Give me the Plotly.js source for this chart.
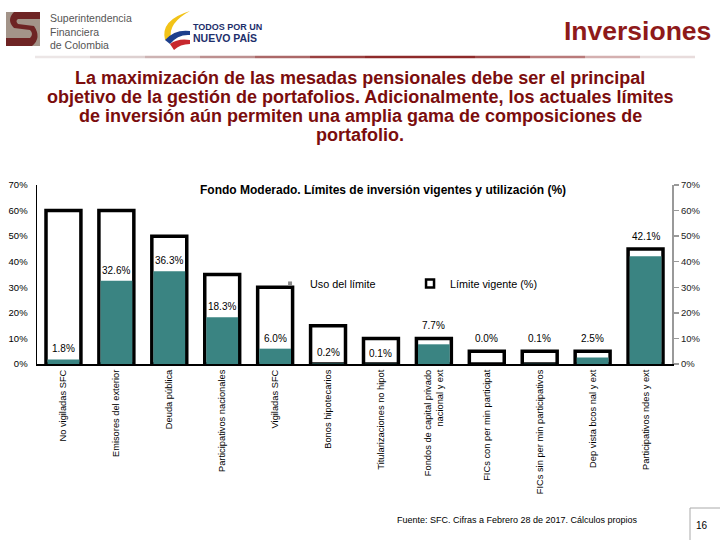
<!DOCTYPE html>
<html>
<head>
<meta charset="utf-8">
<script src="https://cdn.plot.ly/plotly-3.0.1.min.js"></script>
<style>html,body{margin:0;padding:0;background:#fff;}#chart{width:720px;height:540px;}</style>
</head>
<body>
<div id="chart"></div>
<script>
const categories = [
  "No vigiladas SFC",
  "Emisores del exterior",
  "Deuda pública",
  "Participativos nacionales",
  "Vigiladas SFC",
  "Bonos hipotecarios",
  "Titularizaciones no hipot",
  "Fondos de capital privado<br>nacional y ext",
  "FICs con per min participat",
  "FICs sin per min participativos",
  "Dep vista bcos nal y ext",
  "Participativos ndes y ext"
];
const limitValues = [60, 60, 50, 35, 30, 15, 10, 10, 5, 5, 5, 45];
const usageValues = [1.8, 32.6, 36.3, 18.3, 6.0, 0.2, 0.1, 7.7, 0.0, 0.1, 2.5, 42.1];
const yTicks = [0, 10, 20, 30, 40, 50, 60, 70];
const yTickLabels = yTicks.map(v => v + "%");
const usageLabels = usageValues.map(v => v.toFixed(1) + "%");
const headingLines = [
  "La maximización de las mesadas pensionales debe ser el principal",
  "objetivo de la gestión de portafolios. Adicionalmente, los actuales límites",
  "de inversión aún permiten una amplia gama de composiciones de",
  "portafolio."
];

const FONT = "Liberation Sans, Arial, sans-serif";
const TEAL = "#3a8482";

const traces = [
  {
    type: "bar", name: "Límite vigente (%)", showlegend: false,
    x: categories, y: limitValues,
    width: 0.66,
    marker: {color: "#ffffff", line: {color: "#000000", width: 3.5}},
    hoverinfo: "skip"
  },
  {
    type: "bar", name: "Uso del límite", showlegend: false,
    x: categories, y: usageValues,
    width: 0.6,
    marker: {color: TEAL, line: {width: 0}},
    hoverinfo: "skip"
  },
  {
    type: "scatter", x: categories, y: limitValues, yaxis: "y2",
    mode: "markers", marker: {opacity: 0}, showlegend: false, hoverinfo: "skip"
  },
  // legend entries
  {
    type: "scatter", name: "Uso del límite", x: [categories[0]], y: [null],
    mode: "markers", marker: {symbol: "square", size: 4, color: "#8a8a8a"}, hoverinfo: "skip"
  },
  {
    type: "scatter", name: "Límite vigente (%)", x: [categories[0]], y: [null],
    mode: "markers", marker: {symbol: "square", size: 8, color: "#ffffff", line: {color: "#000", width: 2.5}}, hoverinfo: "skip"
  }
];

const px = x => (x - 37) / 635;
const py = y => (364 - y) / 179;

// header gradient line segments
const gradColors = ["#ece6e6","#ddd0d0","#cdb3b3","#bd9090","#ab6868","#9a4040","#8e2a2a","#8e2a2a","#9e4a4a","#b97a7a","#d4b0b0","#e8dcdc"];
const shapes = [];
const gx0 = 35, gx1 = 695;
for (let i = 0; i < gradColors.length; i++) {
  shapes.push({type: "line", xref: "paper", yref: "paper",
    x0: px(gx0 + (gx1 - gx0) * i / gradColors.length),
    x1: px(gx0 + (gx1 - gx0) * (i + 1) / gradColors.length),
    y0: py(57), y1: py(57),
    line: {color: gradColors[i], width: 2.5}});
}
// SFC logo approximation
shapes.push({type: "rect", xref: "paper", yref: "paper", x0: px(6), x1: px(40), y0: py(46), y1: py(12),
  fillcolor: "#a39489", line: {width: 0}});
shapes.push({type: "path", xref: "paper", yref: "paper",
  path: `M ${px(40)} ${py(12)} L ${px(14)} ${py(12)} Q ${px(6)} ${py(20)} ${px(14)} ${py(28)} L ${px(30)} ${py(30)} Q ${px(34)} ${py(34)} ${px(30)} ${py(38)} L ${px(6)} ${py(38)} L ${px(6)} ${py(46)} L ${px(32)} ${py(46)} Q ${px(42)} ${py(38)} ${px(34)} ${py(26)} L ${px(18)} ${py(24)} Q ${px(15)} ${py(21)} ${px(18)} ${py(19)} L ${px(40)} ${py(19)} Z`,
  fillcolor: "#6e2424", line: {width: 0}});
// Colombia logo swoosh approximation
shapes.push({type: "path", xref: "paper", yref: "paper",
  path: `M ${px(190)} ${py(11)} Q ${px(160)} ${py(20)} ${px(165)} ${py(40)} L ${px(171)} ${py(38)} Q ${px(168)} ${py(23)} ${px(190)} ${py(11)} Z`,
  fillcolor: "#f2c318", line: {width: 0}});
shapes.push({type: "path", xref: "paper", yref: "paper",
  path: `M ${px(165)} ${py(40)} Q ${px(175)} ${py(29)} ${px(190)} ${py(31)} L ${px(190)} ${py(35)} Q ${px(178)} ${py(34)} ${px(170)} ${py(44)} Z`,
  fillcolor: "#1d3f8c", line: {width: 0}});
shapes.push({type: "path", xref: "paper", yref: "paper",
  path: `M ${px(170)} ${py(44)} Q ${px(178)} ${py(38)} ${px(190)} ${py(40)} L ${px(190)} ${py(44)} Q ${px(180)} ${py(44)} ${px(174)} ${py(50)} Z`,
  fillcolor: "#c8282e", line: {width: 0}});
// page number box
shapes.push({type: "line", xref: "paper", yref: "paper", x0: px(690), x1: px(720), y0: py(508), y1: py(508), line: {color: "#aaaaaa", width: 1}});
shapes.push({type: "line", xref: "paper", yref: "paper", x0: px(690), x1: px(690), y0: py(508), y1: py(540), line: {color: "#aaaaaa", width: 1}});

const annotations = [
  {xref: "paper", yref: "paper", x: px(48), y: py(10), xanchor: "left", yanchor: "top", align: "left",
    text: "Superintendencia<br>Financiera<br>de Colombia", showarrow: false,
    font: {family: FONT, size: 10.5, color: "#555"}},
  {xref: "paper", yref: "paper", x: px(191), y: py(20), xanchor: "left", yanchor: "top", align: "left",
    text: "<b>TODOS POR UN</b>", showarrow: false, font: {family: FONT, size: 9, color: "#1d2f6b"}},
  {xref: "paper", yref: "paper", x: px(191), y: py(30), xanchor: "left", yanchor: "top", align: "left",
    text: "<b>NUEVO PAÍS</b>", showarrow: false, font: {family: FONT, size: 10.5, color: "#1d2f6b"}},
  {xref: "paper", yref: "paper", x: px(713), y: py(31), xanchor: "right", yanchor: "middle",
    text: "<b>Inversiones</b>", showarrow: false, font: {family: FONT, size: 26.5, color: "#8e1a1a"}},
  {xref: "paper", yref: "paper", x: px(383), y: py(190), xanchor: "center", yanchor: "middle",
    text: "<b>Fondo Moderado. Límites de inversión vigentes y utilización (%)</b>", showarrow: false,
    font: {family: FONT, size: 12, color: "#000"}},
  {xref: "paper", yref: "paper", x: px(395), y: py(520), xanchor: "left", yanchor: "middle",
    text: "Fuente: SFC. Cifras a Febrero 28 de 2017. Cálculos propios", showarrow: false,
    font: {family: FONT, size: 9, color: "#000"}},
  {xref: "paper", yref: "paper", x: px(702), y: py(525), xanchor: "center", yanchor: "middle",
    text: "16", showarrow: false, font: {family: FONT, size: 10, color: "#000"}}
];
const headingY = [78, 97, 116, 135];
headingLines.forEach((t, i) => annotations.push({
  xref: "paper", yref: "paper", x: px(360), y: py(headingY[i]), xanchor: "center", yanchor: "middle",
  text: "<b>" + t + "</b>", showarrow: false, font: {family: FONT, size: 18, color: "#7b0d0d"}
}));
// value labels: above the usage bar, or above the limit outline when the gap is too small
categories.forEach((c, i) => {
  const u = usageValues[i], l = limitValues[i];
  const onTop = (l - u) < 6;
  annotations.push({xref: "x", yref: "y", x: c, y: onTop ? l : u, xanchor: "center", yanchor: "bottom",
    yshift: onTop ? 5 : 3, text: usageLabels[i], showarrow: false,
    font: {family: FONT, size: 10, color: "#000"}});
});

const layout = {
  width: 720, height: 540,
  margin: {l: 37, r: 48, t: 185, b: 176, pad: 0},
  paper_bgcolor: "#ffffff", plot_bgcolor: "#ffffff",
  font: {family: FONT, color: "#000"},
  barmode: "overlay",
  xaxis: {
    type: "category", range: [-0.5, categories.length - 0.5], tickangle: -90, showgrid: false, zeroline: false,
    showline: true, linecolor: "#000", linewidth: 2, ticks: "",
    tickfont: {family: FONT, size: 9.3, color: "#000"}, automargin: false
  },
  yaxis: {
    range: [0, 70], tickvals: yTicks, ticktext: yTickLabels, showgrid: false, zeroline: false,
    showline: true, linecolor: "#000", linewidth: 1.5, ticks: "",
    tickfont: {family: FONT, size: 9.5, color: "#000"}, ticklabelstandoff: 6
  },
  yaxis2: {
    range: [0, 70], tickvals: yTicks, ticktext: yTickLabels, overlaying: "y", side: "right",
    showgrid: false, zeroline: false, showline: true, linecolor: "#999", linewidth: 2,
    ticks: "outside", ticklen: 5, tickcolor: "#999", tickwidth: 1.5,
    tickfont: {family: FONT, size: 9.5, color: "#222"}
  },
  showlegend: true,
  legend: {
    orientation: "h", x: 0.367, y: 0.45, xanchor: "left", yanchor: "middle",
    entrywidth: 95, itemwidth: 30,
    font: {family: FONT, size: 10.8, color: "#000"}, bgcolor: "rgba(0,0,0,0)"
  },
  shapes: shapes,
  annotations: annotations
};

Plotly.newPlot("chart", traces, layout, {displayModeBar: false, staticPlot: true});
</script>
</body>
</html>
